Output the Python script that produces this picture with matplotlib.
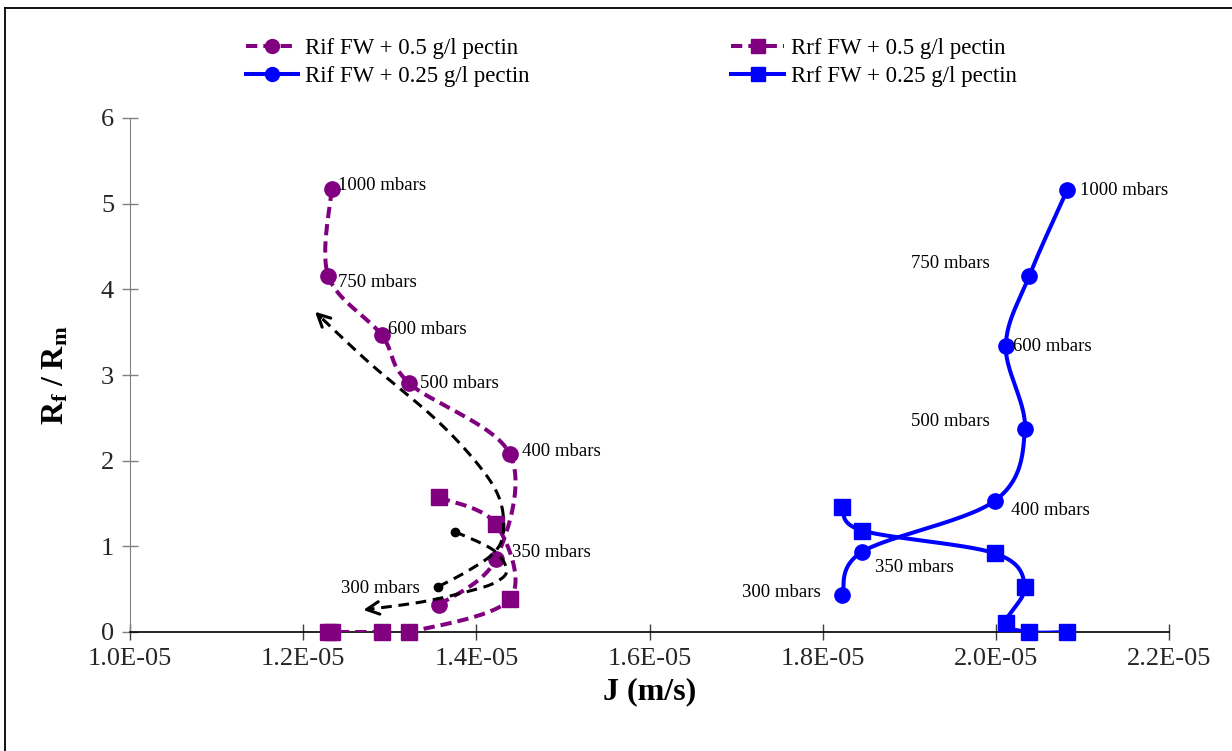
import numpy as np
import matplotlib
matplotlib.use("Agg")
import matplotlib.pyplot as plt
from matplotlib.lines import Line2D

plt.rcParams['font.family'] = ['Liberation Serif', 'DejaVu Serif']
plt.rcParams['mathtext.fontset'] = 'custom'
plt.rcParams['mathtext.rm'] = 'Liberation Serif'
plt.rcParams['mathtext.bf'] = 'Liberation Serif:bold'
plt.rcParams['mathtext.it'] = 'Liberation Serif:italic'

# ---------------- data ----------------
pressures = ["300 mbars", "350 mbars", "400 mbars", "500 mbars", "600 mbars", "750 mbars", "1000 mbars"]

J_05 = [1.357e-5, 1.4226e-5, 1.4388e-5, 1.3226e-5, 1.2906e-5, 1.229e-5, 1.2329e-5]
Rif_05 = [0.315, 0.852, 2.078, 2.903, 3.467, 4.155, 5.17]
Rrf_05 = [1.572, 1.26, 0.385, 0.0, 0.0, 0.0, 0.0]

J_025 = [1.8229e-5, 1.846e-5, 1.999e-5, 2.0335e-5, 2.0115e-5, 2.0385e-5, 2.0824e-5]
Rif_025 = [0.432, 0.938, 1.533, 2.37, 3.338, 4.155, 5.159]
Rrf_025 = [1.456, 1.183, 0.918, 0.529, 0.109, 0.0, 0.0]

xticks = [1.0e-5, 1.2e-5, 1.4e-5, 1.6e-5, 1.8e-5, 2.0e-5, 2.2e-5]
xtick_labels = ["1.0E-05", "1.2E-05", "1.4E-05", "1.6E-05", "1.8E-05", "2.0E-05", "2.2E-05"]
yticks = [0, 1, 2, 3, 4, 5, 6]

# guide arrows (annotation shapes)
arrow_up_J = [1.356e-5, 1.3887e-5, 1.4196e-5, 1.431e-5, 1.4273e-5, 1.404e-5, 1.354e-5, 1.277e-5, 1.2136e-5]
arrow_up_R = [0.529, 0.704, 0.918, 1.15, 1.54, 1.93, 2.475, 3.137, 3.739]
arrow_dn_J = [1.3753e-5, 1.4196e-5, 1.435e-5, 1.4234e-5, 1.3965e-5, 1.3387e-5, 1.2694e-5]
arrow_dn_R = [1.171, 0.957, 0.724, 0.587, 0.49, 0.354, 0.257]

PURPLE = '#800080'
BLUE = '#0000FF'

W, H = 1232, 751
fig = plt.figure(figsize=(W / 100, H / 100), dpi=100)
L, R, T, B = 130, 1169, 118, 632
ax = fig.add_axes([L / W, 1 - B / H, (R - L) / W, (B - T) / H])
ax.set_xlim(1.0e-5, 2.2e-5)
ax.set_ylim(0, 6)
XS = (R - L) / (2.2e-5 - 1.0e-5)
YS = (B - T) / 6.0


def smooth(xs, ys, n=30):
    # Excel-like bezier smoothing done in pixel space
    px = np.asarray(xs) * XS
    py = np.asarray(ys) * YS
    P = np.column_stack([px, py])
    m = len(P)
    out = []
    for i in range(m - 1):
        p0 = P[i - 1] if i > 0 else P[i]
        p1 = P[i]
        p2 = P[i + 1]
        p3 = P[i + 2] if i + 2 < m else P[i + 1]
        c1 = p1 + (p2 - p0) / 6.0
        c2 = p2 - (p3 - p1) / 6.0
        t = np.linspace(0, 1, n)[:, None]
        seg = ((1 - t) ** 3) * p1 + 3 * ((1 - t) ** 2) * t * c1 + 3 * (1 - t) * t ** 2 * c2 + t ** 3 * p2
        if i > 0:
            seg = seg[1:]
        out.append(seg)
    out = np.vstack(out)
    return out[:, 0] / XS, out[:, 1] / YS


lw = 2.9
dash = (2.8, 1.5)

# purple Rif
sx, sy = smooth(J_05, Rif_05)
ax.plot(sx, sy, color=PURPLE, lw=lw, dashes=dash, zorder=3)
ax.plot(J_05, Rif_05, 'o', color=PURPLE, ms=11, zorder=4)
# purple Rrf
sx, sy = smooth(J_05, Rrf_05)
ax.plot(sx, sy, color=PURPLE, lw=lw, dashes=dash, zorder=3)
ax.plot(J_05, Rrf_05, 's', color=PURPLE, ms=11.5, zorder=4, clip_on=False)
# blue Rif
sx, sy = smooth(J_025, Rif_025)
ax.plot(sx, sy, color=BLUE, lw=lw, zorder=3)
ax.plot(J_025, Rif_025, 'o', color=BLUE, ms=11, zorder=4)
# blue Rrf
sx, sy = smooth(J_025, Rrf_025)
ax.plot(sx, sy, color=BLUE, lw=lw, zorder=3)
ax.plot(J_025, Rrf_025, 's', color=BLUE, ms=11, zorder=4, clip_on=False)

# black guide arrows
for aj, ar in ((arrow_up_J, arrow_up_R), (arrow_dn_J, arrow_dn_R)):
    sx, sy = smooth(aj, ar)
    ax.plot(sx[:-3], sy[:-3], color='black', lw=2.2, dashes=(3.5, 2.2), zorder=5)
    ax.plot(aj[0], ar[0], 'o', color='black', ms=6, zorder=5)
    ax.annotate('', xy=(sx[-1], sy[-1]), xytext=(sx[-6], sy[-6]),
                arrowprops=dict(arrowstyle='->,head_length=0.9,head_width=0.45',
                                color='black', lw=2.2, shrinkA=0, shrinkB=0), zorder=5)

# pressure labels (offsets in pixels)
fs_lab = 13.5
off_05 = [(-19, 17, 'right'), (16, 7, 'left'), (12, 2, 'left'), (11, 0, 'left'),
          (6, 5, 'left'), (10, -6, 'left'), (6, 4, 'left')]
off_025 = [(-22, 2, 'right'), (13, -16, 'left'), (16, -10, 'left'), (-35, 7, 'right'),
           (7, 0, 'left'), (-39, 13, 'right'), (13, 0, 'left')]
for lab, x, y, (dx, dy, ha) in zip(pressures, J_05, Rif_05, off_05):
    ax.annotate(lab, (x, y), xytext=(dx, dy), textcoords='offset pixels',
                ha=ha, va='center', fontsize=fs_lab, zorder=6)
for lab, x, y, (dx, dy, ha) in zip(pressures, J_025, Rif_025, off_025):
    ax.annotate(lab, (x, y), xytext=(dx, dy), textcoords='offset pixels',
                ha=ha, va='center', fontsize=fs_lab, zorder=6)

# axes styling
ax.set_xticks(xticks)
ax.set_xticklabels(xtick_labels)
ax.set_yticks(yticks)
ax.tick_params(axis='both', direction='inout', length=11, width=1.0, labelsize=19, pad=6)
ax.tick_params(axis='y', colors='#808080', labelcolor='#262626')
ax.tick_params(axis='x', colors='#404040', labelcolor='#262626')
for s in ('top', 'right'):
    ax.spines[s].set_visible(False)
ax.spines['left'].set_color('#808080')
ax.spines['bottom'].set_color('black')
ax.spines['bottom'].set_linewidth(1.2)
ax.set_xlabel('J (m/s)', fontsize=23, fontweight='bold', labelpad=5)
ax.set_ylabel(r'$\mathbf{R_f\ /\ R_m}$', fontsize=23, labelpad=22)

# legend
handles = [
    Line2D([], [], color=PURPLE, lw=lw, dashes=dash, marker='o', ms=10),
    Line2D([], [], color=BLUE, lw=lw, marker='o', ms=10),
    Line2D([], [], color=PURPLE, lw=lw, dashes=dash, marker='s', ms=10),
    Line2D([], [], color=BLUE, lw=lw, marker='s', ms=10),
]
labels = ["Rif FW + 0.5 g/l pectin", "Rif FW + 0.25 g/l pectin",
          "Rrf FW + 0.5 g/l pectin", "Rrf FW + 0.25 g/l pectin"]
fig.legend(handles, labels, ncol=2, loc='upper left', bbox_to_anchor=(225 / W, 1 - 17 / H),
           frameon=False, fontsize=16.5, handlelength=2.3, handletextpad=0.3,
           columnspacing=8.8, labelspacing=0.3)

# chart-area border (top and left visible)
fig.add_artist(Line2D([5 / W, 5 / W], [0, 1 - 8 / H], color='black', lw=1.3, transform=fig.transFigure))
fig.add_artist(Line2D([5 / W, 1], [1 - 8 / H, 1 - 8 / H], color='black', lw=1.3, transform=fig.transFigure))

fig.savefig('out.png', dpi=100)
